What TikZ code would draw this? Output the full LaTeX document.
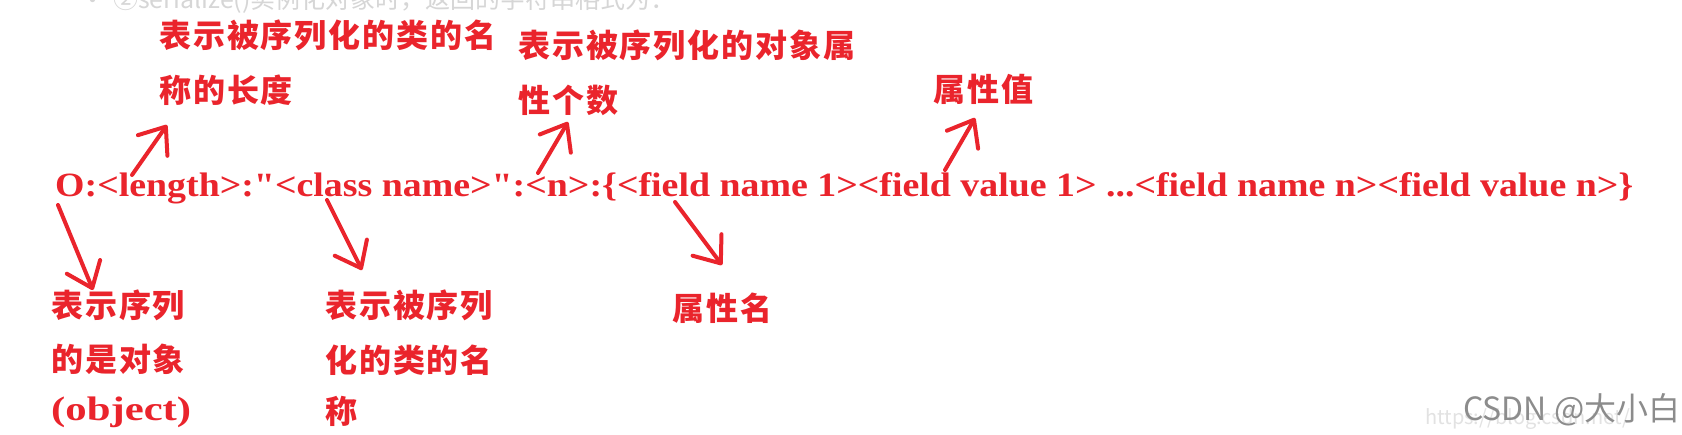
\documentclass[tikz,border=0pt]{standalone}
\usepackage{fontspec}
\setmainfont{Liberation Serif}[Ligatures=TeXOff]
\newfontfamily\cjk{Noto Sans CJK SC}
\newfontfamily\cjksp{Noto Sans CJK SC}[LetterSpace=6]
\usetikzlibrary{arrows.meta}
\definecolor{mark}{RGB}{234,36,44}
\definecolor{faint}{RGB}{214,214,214}
\definecolor{faintb}{RGB}{226,226,226}
\definecolor{wm}{RGB}{140,140,140}
\begin{document}
\begin{tikzpicture}[x=1pt,y=-1pt,
  lbl/.style={inner sep=0pt, anchor=west, text=mark, font=\cjksp\bfseries\fontsize{32}{38}\selectfont},
  code/.style={inner sep=0pt, anchor=base west, text=mark, font=\bfseries\fontsize{34}{40}\selectfont},
  arr/.style={draw=mark, line width=4pt, line cap=round, -{Straight Barb[length=23pt,width=36pt,round]}}]
\clip (0,0) rectangle (1682,434);
\fill[white] (0,0) rectangle (1682,434);
% faint header (cut off at the top)
\node[inner sep=0pt, anchor=west, text=faint, font=\cjk\fontsize{25}{30}\selectfont] (bul) at (80,3) {•};
\node[inner sep=0pt, anchor=west, text=faint, font=\cjk\fontsize{25}{30}\selectfont] (hdr) at (113,0) {②serialize()实例化对象时，返回的字符串格式为：};
% labels above
\node[lbl] (t1a) at (159,35) {表示被序列化的类的名};
\node[lbl] (t1b) at (159,90) {称的长度};
\node[lbl] (t2a) at (518,45) {表示被序列化的对象属};
\node[lbl] (t2b) at (518,100) {性个数};
\node[lbl] (t3) at (933,89) {属性值};
% main line
\node[code] (main) at (55,196) {\resizebox{1578pt}{\height}{O:<length>:"<class name>":<n>:\{<field name 1><field value 1> ...<field name n><field value n>\}}};
% labels below
\node[lbl] (b1a) at (51,305) {表示序列};
\node[lbl] (b1b) at (51,359) {的是对象};
\node[code] (b1c) at (51,420) {\resizebox{140pt}{\height}{(object)}};
\node[lbl] (b2a) at (325,305) {表示被序列};
\node[lbl] (b2b) at (325,360) {化的类的名};
\node[lbl] (b2c) at (325,411) {称};
\node[lbl] (b3) at (672,308) {属性名};
% arrows
\coordinate (lenT) at (132,175); \coordinate (lenH) at (167,125);
\coordinate (nT) at (538,173);   \coordinate (nH) at (568,122);
\coordinate (fvT) at (945,170);  \coordinate (fvH) at (975,118);
\coordinate (oT) at (58,205);    \coordinate (oH) at (93,290);
\coordinate (cT) at (327,200);   \coordinate (cH) at (362,270);
\coordinate (fnT) at (675,202);  \coordinate (fnH) at (722,265);
\draw[arr] (lenT) -- (lenH);
\draw[arr] (nT) -- (nH);
\draw[arr] (fvT) -- (fvH);
\draw[arr] (oT) -- (oH);
\draw[arr] (cT) -- (cH);
\draw[arr] (fnT) -- (fnH);
% watermark
\node[inner sep=0pt, anchor=base west, text=faintb, font=\cjk\fontsize{20}{24}\selectfont] (url) at (1425,424) {https://blog.csdn.net/};
\node[inner sep=0pt, anchor=base west, text=wm, font=\cjk\fontsize{32}{38}\selectfont] (wmk) at (1463,420) {CSDN @大小白};
\end{tikzpicture}
\end{document}
